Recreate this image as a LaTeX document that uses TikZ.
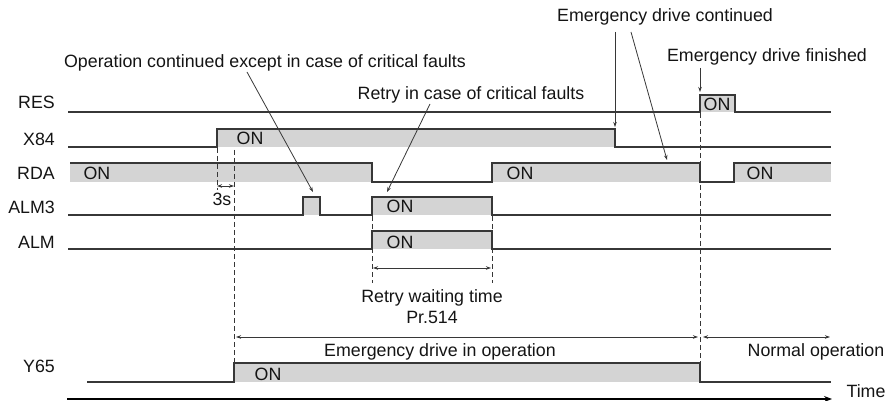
\documentclass[tikz,border=0pt]{standalone}
\usepackage{fontspec}
\setmainfont{Liberation Sans}
\usetikzlibrary{arrows.meta}
\definecolor{sigfill}{RGB}{212,212,212}
\definecolor{sigline}{RGB}{55,55,55}
\definecolor{txt}{RGB}{20,20,20}
\begin{document}
\begin{tikzpicture}[x=1pt,y=-1pt,
  font=\fontsize{17.8}{20}\selectfont,
  sig/.style={draw=sigline, line width=1.2pt},
  lbl/.style={anchor=base east, inner sep=0pt, text=txt},
  txtb/.style={anchor=base, inner sep=0pt, text=txt},
  guide/.style={draw=sigline, dash pattern=on 5pt off 3pt, line width=0.9pt},
  ann/.style={draw=sigline, line width=0.8pt, -{Stealth[length=5pt,width=3.5pt]}},
  dimarr/.style={draw=sigline, line width=0.8pt, {Stealth[length=5pt,width=3.5pt]}-{Stealth[length=5pt,width=3.5pt]}},
  timearr/.style={draw=black, line width=1.3pt, -{Stealth[length=8pt,width=6pt]}}]
\useasboundingbox (0,0) rectangle (887,401);

% ---- fills
\fill[sigfill] (700,95) rectangle (735,112);   % RES
\fill[sigfill] (217,129) rectangle (615,147);  % X84
\fill[sigfill] (70,163) rectangle (372,182);   % RDA
\fill[sigfill] (492,163) rectangle (700,182);
\fill[sigfill] (734,163) rectangle (831,182);
\fill[sigfill] (303,197) rectangle (320,215);  % ALM3
\fill[sigfill] (372,197) rectangle (492,215);
\fill[sigfill] (372,231) rectangle (492,249);  % ALM
\fill[sigfill] (234,363) rectangle (700,382);  % Y65

% ---- waveforms
\draw[sig] (68,112) -- (700,112) -- (700,95) -- (735,95) -- (735,112) -- (831,112);
\draw[sig] (68,147) -- (217,147) -- (217,129) -- (615,129) -- (615,147) -- (831,147);
\draw[sig] (70,163) -- (372,163) -- (372,182) -- (492,182) -- (492,163) -- (700,163) -- (700,182) -- (734,182) -- (734,163) -- (831,163);
\draw[sig] (68,215) -- (303,215) -- (303,197) -- (320,197) -- (320,215) -- (372,215) -- (372,197) -- (492,197) -- (492,215) -- (831,215);
\draw[sig] (68,249) -- (372,249) -- (372,231) -- (492,231) -- (492,249) -- (831,249);
\draw[sig] (87,382) -- (234,382) -- (234,363) -- (700,363) -- (700,382) -- (831,382);

% ---- guides
\draw[guide] (217,148) -- (217,190);
\draw[guide] (234,150) -- (234,362);
\draw[guide] (372,216) -- (372,283);
\draw[guide] (492,216) -- (492,283);
\draw[guide] (700,113) -- (700,362);

% ---- signal labels
\node[lbl] (lRES) at (55,109) {RES};
\node[lbl] (lX84) at (55,146) {X84};
\node[lbl] (lRDA) at (55,180) {RDA};
\node[lbl] (lALM3) at (55,214) {ALM3};
\node[lbl] (lALM) at (55,248) {ALM};
\node[lbl] (lY65) at (55,372) {Y65};

% ---- ON texts
\node[txtb] (onRES) at (717,111) {ON};
\node[txtb] (onX84) at (250,145) {ON};
\node[txtb] (onRDA1) at (97,180) {ON};
\node[txtb] (onRDA2) at (520,180) {ON};
\node[txtb] (onRDA3) at (760,180) {ON};
\node[txtb] (onALM3) at (400,213) {ON};
\node[txtb] (onALM) at (400,248) {ON};
\node[txtb] (onY65) at (268,380) {ON};

% ---- annotation texts
\node[txtb] (tCont) at (665,22) {Emergency drive continued};
\node[txtb] (tFin) at (767,62) {Emergency drive finished};
\node[txtb] (tOper) at (265,68) {Operation continued except in case of critical faults};
\node[txtb] (tRetry) at (471,100) {Retry in case of critical faults};
\node[txtb] (t3s) at (222,206) {3s};
\node[txtb] (tWait) at (432,302) {Retry waiting time};
\node[txtb] (tPr) at (432,323) {Pr.514};
\node[txtb] (tEmer) at (440,356) {Emergency drive in operation};
\node[txtb] (tNorm) at (816,356) {Normal operation};
\node[txtb] (tTime) at (866,397) {Time};

% ---- annotation arrows
\coordinate (c1a) at (615,32);  \coordinate (c1b) at (615,127);
\coordinate (c2a) at (631,32);  \coordinate (c2b) at (667,160);
\coordinate (c3a) at (700,68);  \coordinate (c3b) at (700,92);
\coordinate (c4a) at (247,72);  \coordinate (c4b) at (313,192);
\coordinate (c5a) at (430,104); \coordinate (c5b) at (387,192);
\draw[ann] (c1a) -- (c1b);
\draw[ann] (c2a) -- (c2b);
\draw[ann] (c3a) -- (c3b);
\draw[ann] (c4a) -- (c4b);
\draw[ann] (c5a) -- (c5b);

% ---- dimension arrows
\coordinate (d1a) at (217,186); \coordinate (d1b) at (234,186);
\coordinate (d2a) at (373,268); \coordinate (d2b) at (491,268);
\coordinate (d3a) at (236,337); \coordinate (d3b) at (698,337);
\coordinate (d4a) at (703,337); \coordinate (d4b) at (830,337);
\draw[dimarr] (d1a) -- (d1b);
\draw[dimarr] (d2a) -- (d2b);
\draw[dimarr] (d3a) -- (d3b);
\draw[dimarr] (d4a) -- (d4b);

% ---- time axis
\coordinate (ta) at (67,399); \coordinate (tb) at (832,399);
\draw[timearr] (ta) -- (tb);
\end{tikzpicture}
\end{document}
